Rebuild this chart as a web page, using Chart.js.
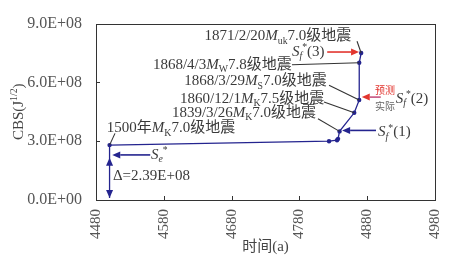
<!DOCTYPE html>
<html>
<head>
<meta charset="utf-8">
<script src="https://cdn.jsdelivr.net/npm/chart.js@4.4.1/dist/chart.umd.min.js"></script>
<style>
    html, body { margin: 0; padding: 0; background: #fff; }
</style>
</head>
<body>
<canvas id="cbsChart" width="463" height="260"></canvas>
<script>
// --- data ---
const years = [4500, 4823.7, 4835.5, 4837, 4839.2, 4860.9, 4868.2, 4868.25, 4871.1];
const cbsValues = [2.8e8, 3.0e8, 3.05e8, 3.12e8, 3.5e8, 4.45e8, 5.1e8, 7.0e8, 7.5e8];
const deltaYears = [4500, 4500];
const deltaValues = [2.8e8, 0.1e8];
const xTicks = [4480, 4580, 4680, 4780, 4880, 4980];
const yTicks = [0, 3e8, 6e8, 9e8];

const serif = "'Liberation Serif', 'Noto Sans CJK SC', serif";
const navy = '#24248f';
const red = '#e2352f';
const ink = '#3a3a3a';

// earthquake notes: text segments, text anchor, leader line (data units)
const quakeNotes = [
    { segs: [['1871/2/20', 'n'], ['M', 'i'], ['uk', 'sub'], ['7.0级地震', 'n']], at: [4640, 8.4e8], from: [4865, 8.1e8], to: [4871.1, 7.5e8] },
    { segs: [['1868/4/3', 'n'], ['M', 'i'], ['W', 'sub'], ['7.8级地震', 'n']], at: [4564, 6.95e8], from: [4769, 6.9e8], to: [4868.25, 7.0e8] },
    { segs: [['1868/3/29', 'n'], ['M', 'i'], ['S', 'sub'], ['7.0级地震', 'n']], at: [4610, 6.1e8], from: [4823.7, 5.85e8], to: [4868.2, 5.1e8] },
    { segs: [['1860/12/1', 'n'], ['M', 'i'], ['K', 'sub'], ['7.5级地震', 'n']], at: [4604, 5.2e8], from: [4816.3, 5.0e8], to: [4860.9, 4.45e8] },
    { segs: [['1839/3/26', 'n'], ['M', 'i'], ['K', 'sub'], ['7.0级地震', 'n']], at: [4592, 4.5e8], from: [4807.4, 4.15e8], to: [4839.2, 3.5e8] },
    { segs: [['1500年', 'n'], ['M', 'i'], ['K', 'sub'], ['7.0级地震', 'n']], at: [4496, 3.7e8], from: [4508, 3.4e8], to: [4500, 2.8e8] }
];

// arrows: tail -> tip (data units)
const arrows = [
    { from: [4560, 2.3e8], to: [4504, 2.3e8], color: navy },
    { from: [4893, 3.55e8], to: [4843, 3.55e8], color: navy },
    { from: [4900, 5.25e8], to: [4872, 5.25e8], color: red, shaft: '#c65380' },
    { from: [4821, 7.55e8], to: [4868, 7.55e8], color: red }
];

const sLabels = [
    { segs: [['S', 'i'], ['e', 'isub'], ['*', 'sup']], at: [4561, 2.35e8] },
    { segs: [['S', 'i'], ['f', 'isub'], ['*', 'sup'], ['(1)', 'n']], at: [4896, 3.5e8] },
    { segs: [['S', 'i'], ['f', 'isub'], ['*', 'sup'], ['(2)', 'n']], at: [4922, 5.2e8] },
    { segs: [['S', 'i'], ['f', 'isub'], ['*', 'sup'], ['(3)', 'n']], at: [4769, 7.6e8] },
    { segs: [['Δ=2.39E+08', 'n']], at: [4505, 1.25e8] }
];

function sciLabel(v) {
    if (v === 0) return '0.0E+00';
    const e = Math.floor(Math.log10(v));
    return (v / Math.pow(10, e)).toFixed(1) + 'E+' + String(e).padStart(2, '0');
}

function drawRich(ctx, segs, x, y, size, color, align) {
    const parts = segs.map(([t, k]) => {
        const small = k === 'sub' || k === 'isub' || k === 'sup';
        const fs = small ? size * 0.65 : size;
        const font = ((k === 'i' || k === 'isub') ? 'italic ' : '') + fs + 'px ' + serif;
        ctx.font = font;
        const dy = (k === 'sub' || k === 'isub') ? size * 0.22 : (k === 'sup' ? -size * 0.38 : 0);
        return { t, font, dy, w: ctx.measureText(t).width };
    });
    const total = parts.reduce((a, p) => a + p.w, 0);
    let cx = align === 'center' ? x - total / 2 : x;
    const base = y + size * 0.33;
    ctx.fillStyle = color;
    ctx.textAlign = 'left';
    ctx.textBaseline = 'alphabetic';
    parts.forEach(p => {
        ctx.font = p.font;
        ctx.fillText(p.t, cx, base + p.dy);
        cx += p.w;
    });
}

function drawArrow(ctx, a, b, color, shaft) {
    const head = 8, half = 3.5;
    const ang = Math.atan2(b[1] - a[1], b[0] - a[0]);
    const bx = b[0] - Math.cos(ang) * head, by = b[1] - Math.sin(ang) * head;
    ctx.strokeStyle = shaft || color;
    ctx.lineWidth = 1.6;
    ctx.beginPath();
    ctx.moveTo(a[0], a[1]);
    ctx.lineTo(bx, by);
    ctx.stroke();
    ctx.fillStyle = color;
    ctx.beginPath();
    ctx.moveTo(b[0], b[1]);
    ctx.lineTo(bx - Math.sin(ang) * half, by + Math.cos(ang) * half);
    ctx.lineTo(bx + Math.sin(ang) * half, by - Math.cos(ang) * half);
    ctx.closePath();
    ctx.fill();
}

const decorPlugin = {
    id: 'decor',
    afterDatasetsDraw(chart) {
        const { ctx, chartArea: ca, scales: { x, y } } = chart;
        const P = p => [x.getPixelForValue(p[0]), y.getPixelForValue(p[1])];
        ctx.save();

        // frame and inward ticks
        ctx.strokeStyle = '#333';
        ctx.lineWidth = 1;
        ctx.strokeRect(Math.round(ca.left) + 0.5, Math.round(ca.top) + 0.5,
            Math.round(ca.right - ca.left), Math.round(ca.bottom - ca.top));
        ctx.beginPath();
        xTicks.forEach(v => {
            const xp = Math.round(x.getPixelForValue(v)) + 0.5;
            ctx.moveTo(xp, ca.bottom);
            ctx.lineTo(xp, ca.bottom - 4);
        });
        yTicks.forEach(v => {
            const yp = Math.round(y.getPixelForValue(v)) + 0.5;
            ctx.moveTo(ca.left, yp);
            ctx.lineTo(ca.left + 4, yp);
        });
        ctx.stroke();

        // leader lines and notes
        quakeNotes.forEach(n => {
            const f = P(n.from), t = P(n.to), a = P(n.at);
            ctx.strokeStyle = '#333';
            ctx.lineWidth = 1.1;
            ctx.beginPath();
            ctx.moveTo(f[0], f[1]);
            ctx.lineTo(t[0], t[1]);
            ctx.stroke();
            drawRich(ctx, n.segs, a[0], a[1], 15, ink);
        });

        // delta arrowheads
        const top = P([deltaYears[0], 2.15e8]), bot = P([deltaYears[1], deltaValues[1]]);
        ctx.fillStyle = navy;
        ctx.beginPath();
        ctx.moveTo(top[0], top[1]);
        ctx.lineTo(top[0] - 3.5, top[1] + 8);
        ctx.lineTo(top[0] + 3.5, top[1] + 8);
        ctx.fill();
        ctx.beginPath();
        ctx.moveTo(bot[0], bot[1]);
        ctx.lineTo(bot[0] - 3.5, bot[1] - 8);
        ctx.lineTo(bot[0] + 3.5, bot[1] - 8);
        ctx.fill();

        arrows.forEach(a => drawArrow(ctx, P(a.from), P(a.to), a.color, a.shaft));
        sLabels.forEach(l => {
            const a = P(l.at);
            drawRich(ctx, l.segs, a[0], a[1], 15, ink);
        });

        // 预测 / 实际 tags by the Sf*(2) arrow
        const tagX = x.getPixelForValue(4891.5);
        ctx.font = '10px ' + serif;
        ctx.textAlign = 'left';
        ctx.textBaseline = 'middle';
        ctx.fillStyle = red;
        ctx.fillText('预测', tagX, y.getPixelForValue(5.55e8));
        ctx.fillStyle = '#666';
        ctx.fillText('实际', tagX, y.getPixelForValue(4.75e8));

        // y axis title with superscript
        ctx.translate(18, (ca.top + ca.bottom) / 2);
        ctx.rotate(-Math.PI / 2);
        drawRich(ctx, [['CBS(J', 'n'], ['1/2', 'sup'], [')', 'n']], 0, 0, 15, '#444', 'center');
        ctx.restore();
    }
};

new Chart(document.getElementById('cbsChart'), {
    type: 'scatter',
    data: {
        datasets: [
            {
                data: years.map((yr, i) => ({ x: yr, y: cbsValues[i] })),
                showLine: true,
                borderColor: navy,
                backgroundColor: navy,
                borderWidth: 1.3,
                pointRadius: 2.2,
                pointBorderWidth: 0,
                tension: 0
            },
            {
                data: deltaYears.map((yr, i) => ({ x: yr, y: deltaValues[i] })),
                showLine: true,
                borderColor: navy,
                borderWidth: 1.3,
                pointRadius: 0
            }
        ]
    },
    options: {
        responsive: false,
        animation: false,
        events: [],
        layout: { padding: { top: 20, right: 28, left: 0, bottom: 0 } },
        plugins: { legend: { display: false }, tooltip: { enabled: false } },
        scales: {
            x: {
                type: 'linear',
                min: 4480,
                max: 4980,
                afterBuildTicks: s => { s.ticks = xTicks.map(v => ({ value: v })); },
                afterFit: s => { s.height = 60; },
                grid: { display: false, drawTicks: false },
                border: { display: false },
                ticks: {
                    minRotation: 90,
                    maxRotation: 90,
                    padding: 9,
                    color: '#555',
                    font: { family: serif, size: 15 },
                    callback: v => String(v)
                },
                title: {
                    display: true,
                    text: '时间(a)',
                    color: '#444',
                    font: { family: serif, size: 15 },
                    padding: { top: 0, bottom: 4 }
                }
            },
            y: {
                min: 0,
                max: 9e8,
                afterBuildTicks: s => { s.ticks = yTicks.map(v => ({ value: v })); },
                afterFit: s => { s.width = 96; },
                grid: { display: false, drawTicks: false },
                border: { display: false },
                ticks: {
                    padding: 14,
                    color: '#555',
                    font: { family: serif, size: 16 },
                    callback: v => sciLabel(v)
                }
            }
        }
    },
    plugins: [decorPlugin]
});
</script>
</body>
</html>
